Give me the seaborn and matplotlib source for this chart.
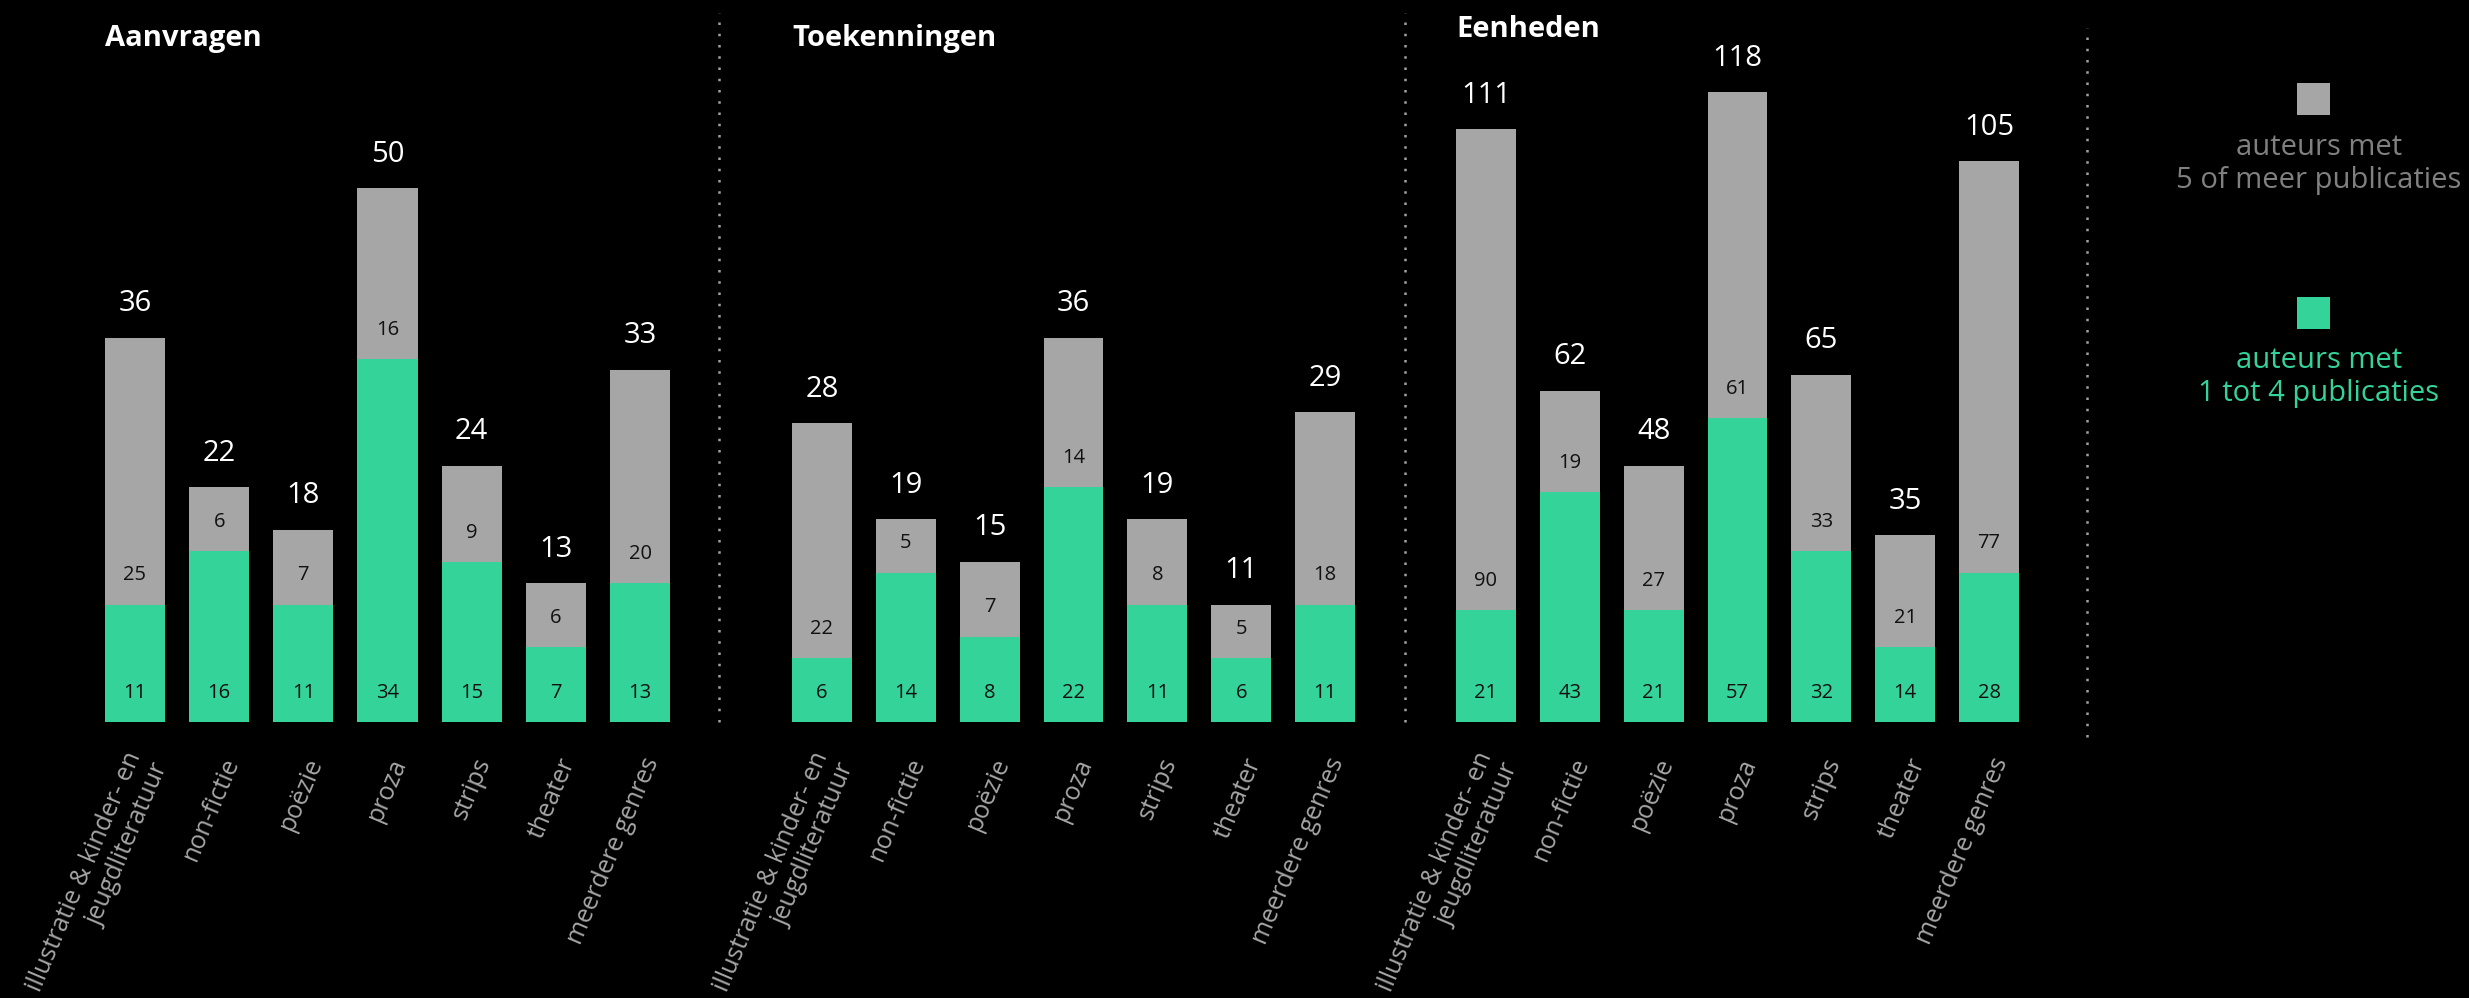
import matplotlib.pyplot as plt
import matplotlib.transforms as mtransforms
import seaborn as sns
import pandas as pd
from matplotlib.lines import Line2D
from matplotlib.patches import Rectangle

# genres on the x axis (same for all three panels)
genres = ['illustratie & kinder- en\njeugdliteratuur', 'non-fictie', 'poëzie', 'proza',
          'strips', 'theater', 'meerdere genres']
panel_titles = ['Aanvragen', 'Toekenningen', 'Eenheden']

# auteurs met 1 tot 4 publicaties (green, bottom)
aanvragen_1tot4 = [11, 16, 11, 34, 15, 7, 13]
toekenningen_1tot4 = [6, 14, 8, 22, 11, 6, 11]
eenheden_1tot4 = [21, 43, 21, 57, 32, 14, 28]

# auteurs met 5 of meer publicaties (gray, top)
aanvragen_5plus = [25, 6, 7, 16, 9, 6, 20]
toekenningen_5plus = [22, 5, 7, 14, 8, 5, 18]
eenheden_5plus = [90, 19, 27, 61, 33, 21, 77]

legend_labels = ['auteurs met\n5 of meer publicaties', 'auteurs met\n1 tot 4 publicaties']

GRAY = '#a6a6a6'
GREEN = '#34d399'
TICK_GRAY = '#a6a6a6'
LEGEND_GRAY = '#808080'

sns.set_theme(style='white')
plt.rcParams['font.family'] = ['Open Sans', 'DejaVu Sans']

W, H = 2469, 998
fig = plt.figure(figsize=(W / 100, H / 100), dpi=100, facecolor='black')

baseline_px = 722
axes_top_px = 60
panels = [
    (panel_titles[0], aanvragen_1tot4, aanvragen_5plus, 92.9, 589.2, 62.0, 46),
    (panel_titles[1], toekenningen_1tot4, toekenningen_5plus, 780.0, 587.0, 62.0, 46),
    (panel_titles[2], eenheden_1tot4, eenheden_5plus, 1444.0, 587.0, 124.0, 37),
]

label_shift = mtransforms.ScaledTranslation(9.5 / 72, 0, fig.dpi_scale_trans)

for title, small, big, left_px, width_px, ymax, title_base in panels:
    ax = fig.add_axes([left_px / W, (H - baseline_px) / H, width_px / W,
                       (baseline_px - axes_top_px) / H])
    df = pd.DataFrame({'genre': genres, 'klein': small, 'groot': big})
    df['totaal'] = df['klein'] + df['groot']

    sns.barplot(data=df, x='genre', y='totaal', color=GRAY, saturation=1,
                width=0.714, errorbar=None, linewidth=0, edgecolor='none', ax=ax)
    sns.barplot(data=df, x='genre', y='klein', color=GREEN, saturation=1,
                width=0.714, errorbar=None, linewidth=0, edgecolor='none', ax=ax)

    ax.set_facecolor('black')
    ax.set_xlim(-0.5, 6.5)
    ax.set_ylim(0, ymax)
    for s in ax.spines.values():
        s.set_visible(False)
    ax.set_yticks([])
    ax.set_xlabel('')
    ax.set_ylabel('')
    ax.set_xticks(range(len(genres)))
    ax.set_xticklabels(genres, rotation=67, ha='right', va='center',
                       rotation_mode='anchor', color=TICK_GRAY, fontsize=18)
    ax.tick_params(axis='x', length=0, pad=26.5)
    for lab in ax.get_xticklabels():
        lab.set_transform(lab.get_transform() + label_shift)

    for i, row in df.iterrows():
        ax.annotate(str(row['totaal']), (i, row['totaal']), xytext=(0, 24.5),
                    textcoords='offset points', ha='center', va='center',
                    color='white', fontsize=21, annotation_clip=False)
        ax.annotate(str(row['groot']), (i, row['klein']), xytext=(0, 21),
                    textcoords='offset points', ha='center', va='center',
                    color='#111111', fontsize=14.5)
        ax.annotate(str(row['klein']), (i, 0), xytext=(0, 21),
                    textcoords='offset points', ha='center', va='center',
                    color='#111111', fontsize=14.5)

    # title left-aligned with the first bar
    bar_left = left_px + (width_px / 7) * (0.5 - 0.714 / 2)
    fig.text(bar_left / W, (H - title_base) / H, title, ha='left', va='baseline',
             color='white', fontsize=21, fontweight='bold')

# dotted dividers
for x_px, y0, y1 in [(719, 13, 722), (1405, 13, 722), (2087, 28, 737)]:
    fig.add_artist(Line2D([x_px / W, x_px / W], [(H - y1) / H, (H - y0) / H],
                          transform=fig.transFigure, color='#a0a0a0',
                          linewidth=1.8, linestyle=(0, (1, 3.5))))

# legend
legend_x = 2313
for (sq_top, txt_center, col, txt_col, label) in [
        (83, 164, GRAY, LEGEND_GRAY, legend_labels[0]),
        (297, 377, GREEN, GREEN, legend_labels[1])]:
    fig.add_artist(Rectangle(((legend_x - 16.5) / W, (H - sq_top - 32) / H), 33 / W, 32 / H,
                             transform=fig.transFigure, facecolor=col, edgecolor='none'))
    fig.text((legend_x + 6) / W, (H - txt_center) / H, label, ha='center', va='center',
             color=txt_col, fontsize=21, linespacing=1.2, multialignment='center')

plt.savefig('out.png', dpi=100, facecolor='black')
print('saved out.png')
